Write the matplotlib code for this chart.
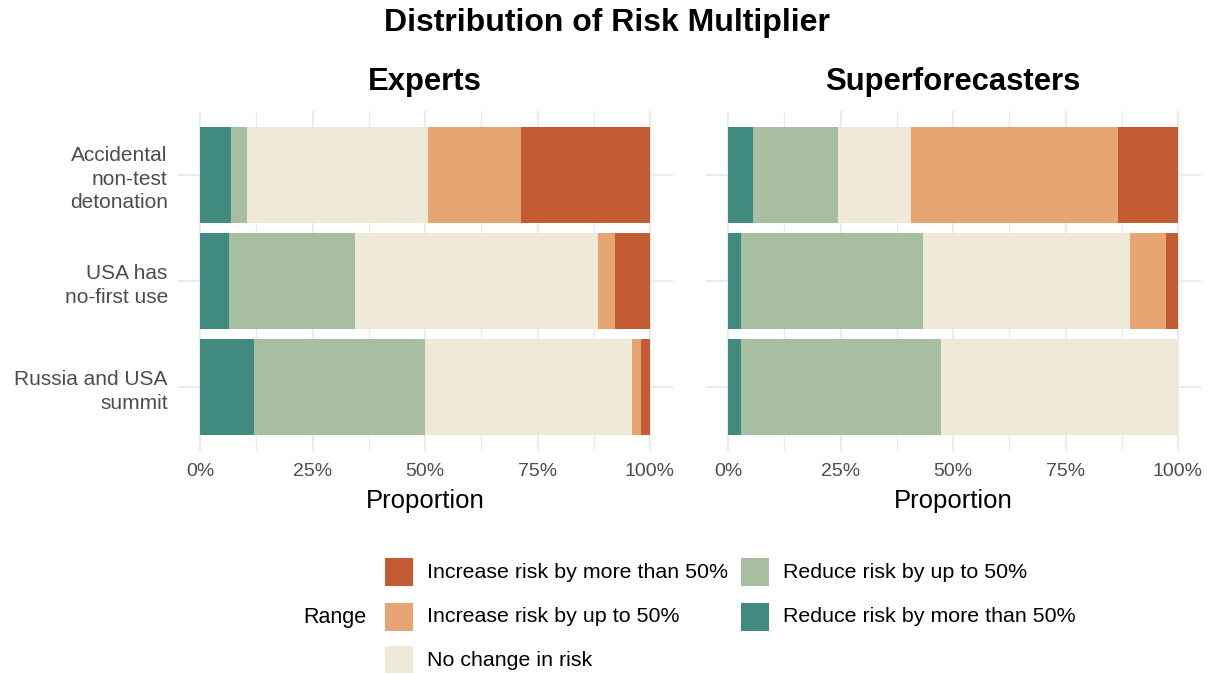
import matplotlib
matplotlib.use("Agg")
import matplotlib.pyplot as plt
import numpy as np
from matplotlib.patches import Rectangle

plt.rcParams['font.family'] = ['Liberation Sans', 'DejaVu Sans']

# ---------------- data ----------------
title = "Distribution of Risk Multiplier"
panels = ["Experts", "Superforecasters"]
questions = ["Accidental\nnon-test\ndetonation", "USA has\nno-first use", "Russia and USA\nsummit"]

# order of stacking from left (0) to right (100%)
range_levels = ["Reduce risk by more than 50%", "Reduce risk by up to 50%", "No change in risk",
                "Increase risk by up to 50%", "Increase risk by more than 50%"]
range_colors = ["#418A80", "#A7BFA0", "#EFE9D7", "#E7A573", "#C45B32"]

# proportions (%) per question, columns follow range_levels
experts = np.array([
    [6.8, 3.6, 40.2, 20.7, 28.7],
    [6.4, 28.1, 53.9, 3.9, 7.7],
    [11.9, 38.1, 46.0, 2.0, 2.0],
])
superforecasters = np.array([
    [5.6, 18.8, 16.3, 45.9, 13.4],
    [2.8, 40.5, 46.0, 8.1, 2.6],
    [2.8, 44.5, 52.7, 0.0, 0.0],
])
panel_data = [experts, superforecasters]

x_ticks = [0, 0.25, 0.5, 0.75, 1.0]
x_ticklabels = ["0%", "25%", "50%", "75%", "100%"]

# legend order (column-wise fill, as in the reference)
legend_order = ["Increase risk by more than 50%", "Increase risk by up to 50%", "No change in risk",
                "Reduce risk by up to 50%", "Reduce risk by more than 50%"]

# ---------------- figure ----------------
W, H = 1214, 673
fig = plt.figure(figsize=(W / 100, H / 100), dpi=100)

def fx(px):
    return px / W

def fy(py):
    return 1 - py / H

grid_c = "#EBEBEB"
tick_c = "#4D4D4D"

ax_left = [177.5, 705.5]
ax_w = 495
ax_top, ax_bot = 111, 451

axes = []
for i, (name, data) in enumerate(zip(panels, panel_data)):
    ax = fig.add_axes([fx(ax_left[i]), fy(ax_bot), ax_w / W, (ax_bot - ax_top) / H])
    axes.append(ax)
    y = np.arange(len(questions))
    frac = data / data.sum(axis=1, keepdims=True)
    left = np.zeros(len(questions))
    for k, lvl in enumerate(range_levels):
        ax.barh(y, frac[:, k], left=left, height=0.9, color=range_colors[k],
                edgecolor="none", zorder=2)
        left += frac[:, k]
    ax.set_xlim(-0.05, 1.05)
    ax.set_ylim(len(questions) - 0.4, -0.6)
    ax.set_xticks(x_ticks)
    ax.set_xticks([0.125, 0.375, 0.625, 0.875], minor=True)
    ax.set_xticklabels(x_ticklabels, fontsize=14, color=tick_c)
    ax.set_yticks(y)
    if i == 0:
        ax.set_yticklabels(questions, fontsize=15, color=tick_c, ha="right",
                           linespacing=1.32)
    else:
        ax.set_yticklabels([])
    ax.grid(True, which="major", color=grid_c, linewidth=1.6, zorder=0)
    ax.grid(True, which="minor", axis="x", color=grid_c, linewidth=1.0, zorder=0)
    ax.set_axisbelow(True)
    ax.tick_params(which="both", length=0)
    ax.tick_params(axis="x", pad=9)
    ax.tick_params(axis="y", pad=7)
    for s in ax.spines.values():
        s.set_visible(False)
    ax.set_xlabel("Proportion", fontsize=18.5, color="black", labelpad=6)
    ax.set_title(name, fontsize=22.3, fontweight="bold", pad=15)

fig.text(0.5, fy(23), title, fontsize=23, fontweight="bold", ha="center", va="center")

# ---------------- legend ----------------
fig.text(fx(303), fy(617), "Range", fontsize=15.5, ha="left", va="center")
col_x = [385, 741]
row_y = [572, 617, 660]
key = 28
color_of = dict(zip(range_levels, range_colors))
for j, lvl in enumerate(legend_order):
    c = j // 3
    r = j % 3
    kx, ky = col_x[c], row_y[r]
    fig.patches.append(Rectangle((fx(kx), fy(ky + key / 2)), key / W, key / H,
                                 transform=fig.transFigure, facecolor=color_of[lvl],
                                 edgecolor="none"))
    fig.text(fx(kx + key + 14), fy(ky), lvl, fontsize=15.4, ha="left", va="center")

fig.savefig("out.png", dpi=100, facecolor="white")
